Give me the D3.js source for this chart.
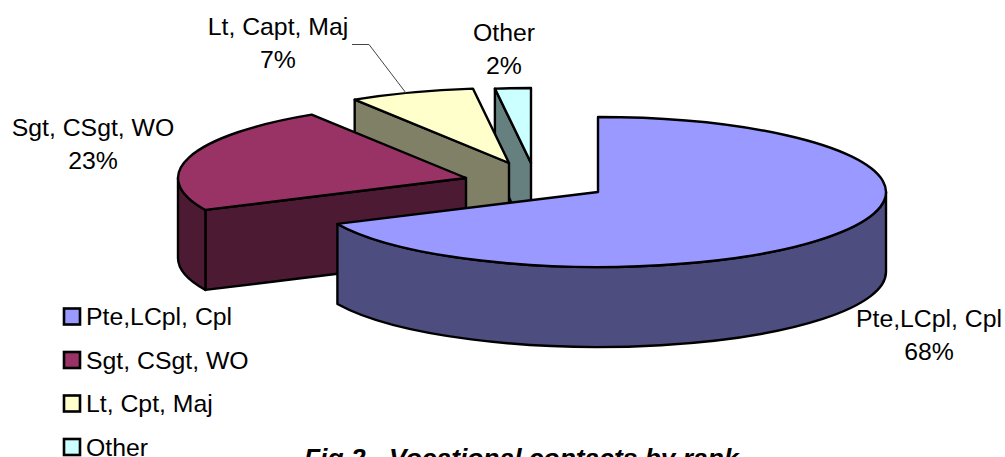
<!DOCTYPE html>
<html>
<head>
<meta charset="utf-8">
<script src="https://cdn.jsdelivr.net/npm/d3@7/dist/d3.min.js"></script>
<style>
html,body{margin:0;padding:0;background:#fff;overflow:hidden}
text{font-family:"Liberation Sans",Arial,sans-serif;fill:#000}
</style>
</head>
<body>
<script>
// Vocational contacts by rank
const sliceLabels = ["Pte,LCpl, Cpl", "Sgt, CSgt, WO", "Lt, Capt, Maj", "Other"];
const legendLabels = ["Pte,LCpl, Cpl", "Sgt, CSgt, WO", "Lt, Cpt, Maj", "Other"];
const percents = [68, 23, 7, 2];
const topColours = ["#9999ff", "#993366", "#ffffcc", "#ccffff"];
const sideColours = ["#4d4d80", "#4d1a33", "#808066", "#668080"];

// Apex of each exploded slice on the page
const apexX = [598, 466, 509, 531];
const apexY = [192, 178, 163, 163];
const labelX = [929, 93, 278, 504];
const labelY = [327, 136, 35, 41];

const W = 1005, H = 457;
const RX = 288, RY = 75, DEPTH = 80;
const FONT = 24.8, LINE = 32.5;

const svg = d3.select("body").append("svg")
  .attr("width", W).attr("height", H).style("display", "block");

const slices = d3.pie().sort(null).value(d => d)(percents)
  .map((s, i) => ({...s, i}));

// Rim point for a clockwise-from-north angle
const rim = (s, a) => [apexX[s.i] + RX * Math.sin(a), apexY[s.i] - RY * Math.cos(a)];
const fmt = p => p.map(v => v.toFixed(2)).join(",");

function topPath(s) {
  const large = s.endAngle - s.startAngle > Math.PI ? 1 : 0;
  return `M${apexX[s.i]},${apexY[s.i]}L${fmt(rim(s, s.startAngle))}` +
    `A${RX},${RY} 0 ${large} 1 ${fmt(rim(s, s.endAngle))}Z`;
}

// Outer wall between two angles of the slice
function wallPath(s, a0, a1) {
  const p0 = rim(s, a0), p1 = rim(s, a1);
  const large = a1 - a0 > Math.PI ? 1 : 0;
  return `M${fmt(p0)}A${RX},${RY} 0 ${large} 1 ${fmt(p1)}` +
    `L${p1[0].toFixed(2)},${(p1[1] + DEPTH).toFixed(2)}` +
    `A${RX},${RY} 0 ${large} 0 ${p0[0].toFixed(2)},${(p0[1] + DEPTH).toFixed(2)}Z`;
}

// Flat cut face running from the rim at the start angle to the apex
function facePath(s) {
  const p = rim(s, s.startAngle), ax = apexX[s.i], ay = apexY[s.i];
  return `M${fmt(p)}L${ax},${ay}L${ax},${ay + DEPTH}` +
    `L${p[0].toFixed(2)},${(p[1] + DEPTH).toFixed(2)}Z`;
}

const stroke = sel => sel.attr("stroke", "#000").attr("stroke-width", 2.4)
  .attr("stroke-linejoin", "round");

// Paint from the back of the pie to the front
const order = slices.slice().reverse();
order.forEach(s => {
  const g = svg.append("g");
  const side = sideColours[s.i];
  if (s.i !== 0) {
    g.append("path").attr("d", facePath(s)).attr("fill", side).call(stroke);
  }
  // Only the part of the rim facing the viewer has a visible wall
  const a0 = Math.max(s.startAngle, Math.PI / 2);
  const a1 = Math.min(s.endAngle, 3 * Math.PI / 2);
  if (a1 > a0) {
    g.append("path").attr("d", wallPath(s, a0, a1)).attr("fill", side).call(stroke);
  }
  g.append("path").attr("d", topPath(s)).attr("fill", topColours[s.i]).call(stroke);
});

// Leader line for the small officer slice
svg.append("path").attr("d", d3.line()([[352, 44.5], [369, 44.5], [406, 93]]))
  .attr("fill", "none").attr("stroke", "#444").attr("stroke-width", 1);

// Slice labels: name and share
slices.forEach(s => {
  const t = svg.append("text").attr("text-anchor", "middle").attr("font-size", FONT);
  t.append("tspan").attr("x", labelX[s.i]).attr("y", labelY[s.i]).text(sliceLabels[s.i]);
  t.append("tspan").attr("x", labelX[s.i]).attr("y", labelY[s.i] + LINE).text(percents[s.i] + "%");
});

// Legend
const legendY = d3.scalePoint().domain(d3.range(4)).range([316.5, 447]);
legendLabels.forEach((name, i) => {
  const y = legendY(i);
  svg.append("rect").attr("x", 64).attr("y", y - 8).attr("width", 16).attr("height", 16)
    .attr("fill", topColours[i]).attr("stroke", "#000").attr("stroke-width", 2.6);
  svg.append("text").attr("x", 86).attr("y", y + 8.5).attr("font-size", FONT).text(name);
});

// Caption
svg.append("text").attr("x", 304).attr("y", 467)
  .attr("font-size", 26.4).attr("font-weight", "bold").attr("font-style", "italic")
  .text("Fig 2 - Vocational contacts by rank");
</script>
</body>
</html>
